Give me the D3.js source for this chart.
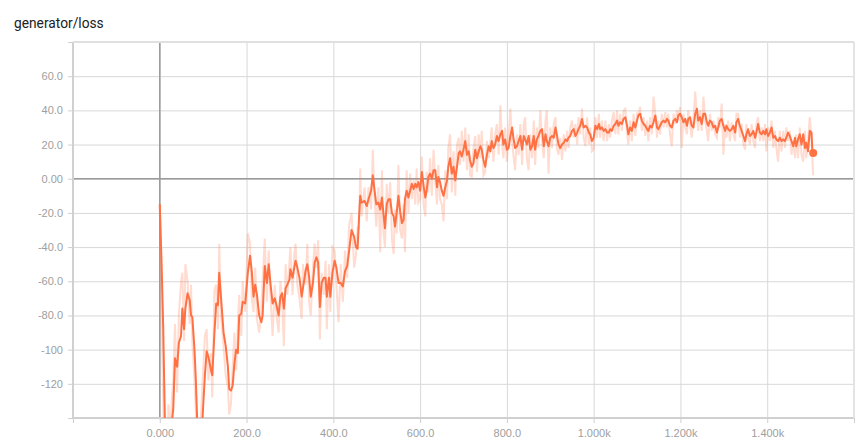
<!DOCTYPE html>
<html lang="en">
<head>
<meta charset="UTF-8">
<title>generator/loss</title>
<script src="https://d3js.org/d3.v7.min.js"></script>
<style>
    body {
        margin: 0;
        padding: 0;
        background: #fff;
        font-family: Roboto, "Noto Sans", sans-serif;
    }
    .title {
        font-size: 13.75px;
        fill: #212121;
    }
    .tick text {
        font-size: 11px;
        fill: #9e9e9e;
    }
    .grid line {
        stroke: #d8d8d8;
        stroke-width: 1px;
    }
    .grid path, .axis path {
        display: none;
    }
    .axis line {
        stroke: #cfcfcf;
    }
</style>
</head>
<body>
<div id="chart"></div>
<script>

// steps
const steps = [
    0, 4, 8, 12, 16, 20, 24, 28, 31, 35, 40, 44, 49, 52, 56, 59, 64, 69, 72, 75,
    80, 83, 86, 89, 93, 97, 100, 104, 108, 112, 118, 121, 126, 130, 134, 137, 141, 147, 152, 157,
    160, 164, 168, 172, 176, 180, 183, 188, 191, 197, 203, 208, 212, 216, 220, 224, 229, 234, 237, 242,
    247, 251, 255, 260, 265, 269, 274, 278, 282, 286, 290, 294, 299, 301, 306, 310, 313, 317, 322, 327,
    330, 336, 340, 344, 348, 353, 357, 361, 365, 369, 373, 378, 382, 385, 390, 393, 398, 403, 407, 412,
    417, 422, 427, 432, 436, 442, 448, 452, 456, 459, 462, 465, 472, 477, 481, 487, 491, 495, 499, 504,
    508, 512, 515, 519, 523, 527, 531, 535, 539, 542, 546, 550, 554, 558, 562, 565, 569, 573, 577, 581,
    585, 589, 592, 596, 600, 604, 608, 612, 615, 619, 623, 627, 631, 635, 639, 642, 646, 650, 654, 658,
    662, 665, 669, 673, 677, 681, 685, 689, 692, 696, 700, 704, 708, 712, 715, 719, 723, 727, 731, 735,
    739, 742, 746, 750, 754, 758, 762, 765, 769, 773, 777, 781, 785, 789, 792, 796, 800, 804, 808, 812,
    815, 819, 823, 827, 831, 835, 839, 842, 846, 850, 854, 858, 862, 865, 869, 873, 877, 881, 885, 889,
    892, 896, 900, 904, 908, 912, 915, 919, 923, 927, 931, 935, 939, 942, 946, 950, 954, 958, 962, 965,
    969, 973, 977, 981, 985, 989, 992, 996, 1000, 1004, 1008, 1012, 1015, 1019, 1023, 1027, 1031, 1035, 1038, 1042,
    1046, 1050, 1054, 1057, 1061, 1065, 1069, 1073, 1077, 1080, 1084, 1088, 1092, 1096, 1100, 1103, 1107, 1111, 1115, 1119,
    1123, 1126, 1130, 1134, 1138, 1142, 1146, 1149, 1153, 1157, 1161, 1165, 1169, 1172, 1176, 1180, 1184, 1188, 1192, 1195,
    1199, 1203, 1207, 1211, 1215, 1218, 1222, 1226, 1230, 1234, 1238, 1241, 1245, 1249, 1253, 1257, 1261, 1264, 1268, 1272,
    1276, 1280, 1284, 1287, 1291, 1295, 1299, 1303, 1306, 1310, 1314, 1318, 1322, 1326, 1329, 1333, 1337, 1341, 1345, 1349,
    1352, 1356, 1360, 1364, 1368, 1372, 1375, 1379, 1383, 1387, 1391, 1395, 1398, 1402, 1406, 1410, 1414, 1418, 1421, 1425,
    1429, 1433, 1437, 1441, 1444, 1448, 1452, 1456, 1460, 1464, 1467, 1471, 1475, 1479, 1483, 1487, 1490, 1494, 1498, 1502,
    1504, 1506
];

// smoothed loss (the dark orange line)
const smoothed = [
    -15, -48, -88, -145, -162, -168, -160, -142, -135, -105, -110, -96, -92, -76, -88, -76, -67, -71, -80, -81,
    -100, -117, -140, -155, -160, -148, -133, -115, -101, -104, -112, -115, -90, -73, -74, -55, -69, -90, -98, -110,
    -123, -124, -121, -108, -100, -102, -80, -79, -72, -73, -55, -45, -54, -69, -62, -68, -80, -84, -80, -51,
    -61, -50, -61, -73, -70, -74, -80, -69, -67, -76, -64, -62, -59, -53, -58, -52, -48, -52, -58, -69,
    -64, -54, -50, -57, -69, -61, -49, -46, -49, -75, -61, -58, -58, -69, -58, -69, -55, -48, -52, -61,
    -61, -63, -54, -51, -43, -30, -34, -40, -41, -24, -10, -14, -13, -16, -12, -7, 2, -7, -15, -14,
    -18, -11, -19, -29, -15, -12, -12, -20, -22, -28, -20, -10, -19, -26, -24, -12, -7, -11, -7, -3,
    -6, -3, -5, -2, -7, 4, -4, -11, -7, 1, 3, 0, 5, 5, -5, 1, -2, -7, -10, -5,
    -1, 7, 12, 3, 7, -1, 7, 15, 16, 13, 17, 22, 14, 16, 11, 7, 9, 17, 12, 16,
    19, 17, 11, 7, 14, 19, 16, 22, 18, 20, 25, 22, 26, 28, 20, 23, 17, 18, 25, 30,
    24, 18, 19, 22, 25, 17, 25, 23, 20, 25, 17, 19, 25, 17, 23, 25, 28, 29, 19, 26,
    22, 19, 24, 25, 24, 30, 26, 20, 18, 20, 21, 23, 22, 24, 25, 28, 29, 25, 27, 29,
    31, 35, 30, 31, 30, 27, 26, 22, 24, 31, 29, 32, 29, 30, 28, 29, 27, 27, 29, 28,
    31, 32, 34, 31, 33, 32, 35, 36, 31, 26, 30, 28, 33, 30, 34, 37, 38, 34, 32, 31,
    29, 28, 31, 30, 33, 37, 30, 29, 31, 33, 34, 33, 35, 34, 31, 30, 34, 35, 33, 37,
    38, 36, 33, 35, 31, 35, 36, 31, 30, 38, 41, 34, 36, 32, 38, 38, 33, 31, 34, 33,
    30, 31, 27, 30, 34, 35, 31, 28, 31, 29, 28, 29, 31, 27, 33, 35, 31, 28, 25, 22,
    26, 29, 25, 26, 28, 24, 27, 32, 27, 26, 28, 26, 29, 25, 27, 30, 24, 25, 23, 22,
    24, 22, 23, 22, 24, 27, 25, 22, 19, 24, 19, 23, 26, 20, 26, 18, 21, 16, 28, 27,
    17, 15
];

// raw loss (the pale trace)
const raw = [
    -15, -80, -130, -190, -175, -132, -150, -128, -118, -85, -125, -80, -60, -55, -95, -50, -60, -85, -62, -95,
    -118, -135, -165, -170, -150, -128, -112, -92, -88, -118, -102, -128, -65, -62, -88, -38, -80, -98, -115, -122,
    -138, -132, -110, -90, -112, -85, -68, -92, -60, -78, -32, -38, -70, -78, -52, -82, -90, -78, -60, -35,
    -72, -42, -68, -92, -62, -80, -90, -60, -72, -98, -50, -68, -48, -40, -68, -44, -38, -62, -70, -82,
    -50, -62, -38, -72, -80, -52, -38, -52, -36, -94, -55, -68, -48, -88, -50, -78, -40, -42, -62, -84,
    -50, -72, -42, -58, -28, -20, -52, -45, -28, -30, 6, -22, -5, -25, -5, -18, 17, -12, -28, -5,
    -43, 5, -30, -40, -3, -20, -2, -35, -44, -18, -32, 8, -30, -35, -15, -43, 5, -20, 3, -12,
    -1, -15, 6, -14, -12, 13, -15, -22, 4, -8, 12, -10, 17, -2, -15, 8, -12, -15, -25, 5,
    -12, 18, 26, -8, 16, -10, 20, 24, 8, 28, 10, 30, 5, 26, 2, 1, 18, 25, 4, 26,
    12, 28, 2, 4, 22, 12, 22, 30, 10, 26, 32, 14, 43, 20, 12, 30, 10, 25, 41, 22,
    14, 5, 26, 14, 32, 8, 32, 36, 12, 5, 26, 12, 34, 8, 30, 18, 40, 22, 12, 34,
    40, 3, 30, 18, 32, 36, 18, 14, 24, 11, 26, 16, 28, 18, 30, 34, 24, 32, 20, 36,
    26, 41, 24, 19, 36, 20, 30, 16, 17, 36, 24, 38, 24, 34, 22, 34, 22, 32, 24, 34,
    39, 26, 40, 26, 38, 28, 40, 41, 26, 20, 34, 22, 38, 25, 38, 37, 42, 28, 36, 25,
    34, 22, 36, 26, 48, 38, 24, 34, 26, 38, 30, 39, 30, 38, 26, 19, 38, 32, 40, 34,
    42, 18, 38, 30, 26, 40, 32, 24, 35, 51, 36, 28, 40, 28, 48, 34, 28, 22, 38, 28,
    34, 26, 24, 36, 30, 44, 14, 32, 24, 34, 22, 33, 26, 22, 38, 38, 24, 32, 20, 17,
    32, 24, 20, 32, 22, 18, 32, 36, 22, 30, 22, 32, 16, 30, 22, 34, 18, 28, 18, 10,
    28, 16, 28, 18, 30, 22, 28, 14, 22, 12, 26, 12, 30, 14, 10, 28, 12, 22, 36, 24,
    12, 2
];

const xTickValues = [-200, 0, 200, 400, 600, 800, 1000, 1200, 1400, 1600];
const xLabelled = [0, 200, 400, 600, 800, 1000, 1200, 1400];
const yTickValues = [-140, -120, -100, -80, -60, -40, -20, 0, 20, 40, 60, 80];
const yLabelled = [-120, -100, -80, -60, -40, -20, 0, 20, 40, 60];

const width = 868, height = 442;
const margin = {top: 42, right: 14, bottom: 24, left: 73};
const w = width - margin.left - margin.right;
const h = height - margin.top - margin.bottom;
const lineColor = "#ff7043";

const locale = d3.formatLocale({decimal: ".", thousands: ",", grouping: [3], currency: ["$", ""], minus: "-"});
const fmtX = locale.format(".4s");
const fmtY = locale.format(".3s");

const svg = d3.select("#chart")
    .append("svg")
    .attr("width", width)
    .attr("height", height);

svg.append("text")
    .attr("class", "title")
    .attr("x", 14)
    .attr("y", 28)
    .text("generator/loss");

const g = svg.append("g")
    .attr("transform", `translate(${margin.left},${margin.top})`);

const x = d3.scaleLinear().domain([-200, 1600]).range([0, w]);
const y = d3.scaleLinear().domain([-140, 80]).range([h, 0]);

// grid
g.append("g")
    .attr("class", "grid")
    .attr("transform", `translate(0,${h})`)
    .call(d3.axisBottom(x).tickValues(xTickValues).tickSize(-h).tickFormat(""));

g.append("g")
    .attr("class", "grid")
    .call(d3.axisLeft(y).tickValues(yTickValues).tickSize(-w).tickFormat(""));

// zero lines
g.append("line")
    .attr("x1", x(0)).attr("x2", x(0))
    .attr("y1", 0).attr("y2", h)
    .attr("stroke", "#9a9a9a")
    .attr("stroke-width", 1.5);

g.append("line")
    .attr("x1", 0).attr("x2", w)
    .attr("y1", y(0)).attr("y2", y(0))
    .attr("stroke", "#9a9a9a")
    .attr("stroke-width", 1.5);

// frame
g.append("line").attr("x1", 0).attr("x2", 0).attr("y1", 0).attr("y2", h)
    .attr("stroke", "#d0d0d0").attr("stroke-width", 2);
g.append("line").attr("x1", 0).attr("x2", w).attr("y1", h).attr("y2", h)
    .attr("stroke", "#d0d0d0").attr("stroke-width", 2);
g.append("line").attr("x1", w).attr("x2", w).attr("y1", 0).attr("y2", h)
    .attr("stroke", "#e4e4e4").attr("stroke-width", 2);
g.append("line").attr("x1", 0).attr("x2", w).attr("y1", 0).attr("y2", 0)
    .attr("stroke", "#e0e0e0").attr("stroke-width", 2);

// axes
g.append("g")
    .attr("class", "axis")
    .attr("transform", `translate(0,${h})`)
    .call(d3.axisBottom(x).tickValues(xTickValues).tickSize(5).tickPadding(6)
        .tickFormat(d => xLabelled.includes(d) ? fmtX(d) : ""));

g.append("g")
    .attr("class", "axis")
    .call(d3.axisLeft(y).tickValues(yTickValues).tickSize(5).tickPadding(5)
        .tickFormat(d => yLabelled.includes(d) ? fmtY(d) : ""));

// data
g.append("clipPath")
    .attr("id", "plotClip")
    .append("rect")
    .attr("x", 0).attr("y", 0)
    .attr("width", w).attr("height", h);

const series = steps.map((s, i) => ({step: s, raw: raw[i], smooth: smoothed[i]}));

const plot = g.append("g").attr("clip-path", "url(#plotClip)");

plot.append("path")
    .datum(series)
    .attr("fill", "none")
    .attr("stroke", lineColor)
    .attr("stroke-opacity", 0.25)
    .attr("stroke-width", 2)
    .attr("d", d3.line().x(d => x(d.step)).y(d => y(d.raw)));

plot.append("path")
    .datum(series)
    .attr("fill", "none")
    .attr("stroke", lineColor)
    .attr("stroke-width", 2)
    .attr("stroke-linejoin", "round")
    .attr("d", d3.line().x(d => x(d.step)).y(d => y(d.smooth)));

const last = series[series.length - 1];
plot.append("circle")
    .attr("cx", x(last.step))
    .attr("cy", y(last.smooth))
    .attr("r", 4)
    .attr("fill", lineColor);

</script>
</body>
</html>
